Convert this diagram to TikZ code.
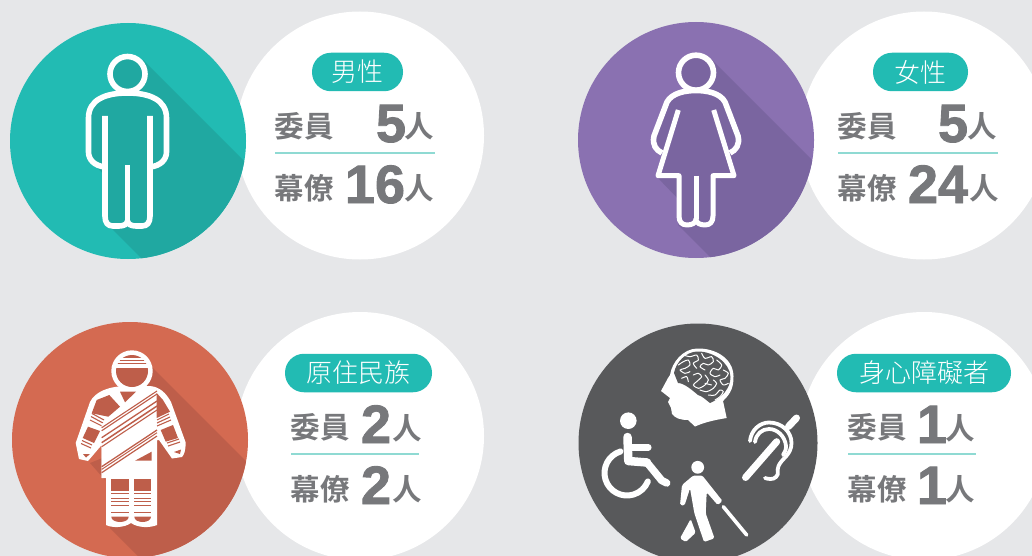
\documentclass[tikz,border=0pt]{standalone}
\usepackage{fontspec}
\newfontfamily\cjkb{Noto Sans CJK TC Bold}
\newfontfamily\cjkl{Noto Sans CJK TC Light}
\newfontfamily\numf{Liberation Sans}[BoldFeatures={FakeBold=1.6}]
\definecolor{bgc}{HTML}{E6E7E9}
\definecolor{tealc}{HTML}{22BBB3}
\definecolor{tealsh}{HTML}{20A8A1}
\definecolor{purc}{HTML}{8A71B1}
\definecolor{pursh}{HTML}{7A65A0}
\definecolor{redc}{HTML}{D46A51}
\definecolor{redsh}{HTML}{BE5E4A}
\definecolor{darkc}{HTML}{58595B}
\definecolor{txtc}{HTML}{77787B}
\definecolor{rulec}{HTML}{8FDAD3}
\tikzset{
  word/.style={inner sep=0,text=txtc,font=\cjkb\fontsize{29.5}{30}\selectfont},
  digit/.style={inner sep=0,text=txtc,font=\numf\bfseries\fontsize{54}{54}\selectfont},
  pillbox/.style={inner sep=0,text=white,font=\cjkl\fontsize{26}{26}\selectfont},
  pillbg/.style={fill=tealc,rounded corners=19pt},
  rulel/.style={draw=rulec,line width=2pt},
  outline/.style={draw=white,line width=5.6pt,line join=round},
  icon/.style={draw=white,line cap=round,line join=round},
}
\begin{document}
\begin{tikzpicture}[x=1pt,y=-1pt]
\useasboundingbox (0,0) rectangle (1032,556);
\fill[bgc] (0,0) rectangle (1032,556);
\fill[white] (360,135.5) circle[radius=124];
\fill[white] (924,135.5) circle[radius=124];
\fill[white] (360,436) circle[radius=124];
\fill[white] (924,436) circle[radius=124];
% ---------- man
\fill[tealc] (128,141) circle[radius=118];
\begin{scope}
\clip (128,141) circle[radius=118];
\fill[tealsh] (143,60) -- (343,260) -- (310,427) -- (110,227) -- (110,160) -- cycle;
\fill[tealsh] (92,162) -- (106,177) -- (110,160) -- cycle;
\end{scope}
\fill[tealsh] (127.5,74) circle[radius=17.5];
\fill[tealsh] (88.5,118) .. controls (88.5,100) and (105,93) .. (127.5,93) .. controls (150,93) and (166.5,100) .. (166.5,118) -- (166.5,152) .. controls (166.5,160) and (160,166) .. (150,167) -- (150,226) -- (105,226) -- (105,167) .. controls (95,166) and (88.5,160) .. (88.5,152) -- cycle;
\draw[outline] (127.5,74) circle[radius=17.5];
\draw[outline] (105,167) .. controls (95,166) and (88.5,160) .. (88.5,152) -- (88.5,118) .. controls (88.5,100) and (105,93) .. (127.5,93) .. controls (150,93) and (166.5,100) .. (166.5,118) -- (166.5,152) .. controls (166.5,160) and (160,166) .. (150,167);
\draw[outline] (105,116) -- (105,216) .. controls (105,223) and (108,226) .. (113,226) -- (119,226) .. controls (124,226) and (127.5,224) .. (127.5,221) .. controls (127.5,224) and (131,226) .. (136,226) -- (142,226) .. controls (147,226) and (150,223) .. (150,216) -- (150,116);
\draw[outline] (127.5,165) -- (127.5,221);
% ---------- woman
\fill[purc] (696,140) circle[radius=118];
\begin{scope}
\clip (696,140) circle[radius=118];
\fill[pursh] (712,60) -- (912,260) -- (878,425) -- (678,225) -- (679,170) -- cycle;
\fill[pursh] (656,176) -- (682,203) -- (682,170) -- cycle;
\end{scope}
\fill[pursh] (696,72.7) circle[radius=17.5];
\fill[pursh] (696,91) .. controls (685,91) and (675,93) .. (670,102) -- (654,138) .. controls (652,145) and (656,150) .. (662,153) -- (658,175.7) -- (679,175.7) -- (679,225) -- (713,225) -- (713,175.7) -- (734,175.7) -- (730,153) .. controls (736,150) and (740,145) .. (738,138) -- (722,102) .. controls (717,93) and (707,91) .. (696,91) -- cycle;
\draw[outline] (696,72.7) circle[radius=17.5];
\draw[outline] (662,153) .. controls (656,150) and (652,145) .. (654,136) -- (667,102) .. controls (672,93) and (685,90.5) .. (696,90.5) .. controls (707,90.5) and (720,93) .. (725,102) -- (738,136) .. controls (740,145) and (736,150) .. (730,153);
\draw[outline,line width=5pt] (678.3,110) -- (658,175.7) -- (679,175.7) -- (679,216) .. controls (679,222) and (682,225) .. (687,225) .. controls (692,225) and (696,223) .. (696,219) .. controls (696,223) and (700,225) .. (705,225) .. controls (710,225) and (713,222) .. (713,216) -- (713,175.7) -- (734,175.7) -- (713.7,110);
\draw[outline,line width=5pt] (696,175.7) -- (696,219);
% ---------- indigenous figure
\fill[redc] (130,440) circle[radius=118];
\begin{scope}
\clip (130,440) circle[radius=118];
\fill[redsh] (148,363) -- (348,563) -- (310,728) -- (110,528) -- (110,440) -- cycle;
\fill[redsh] (90,463) -- (105,480) -- (110,455) -- cycle;
\end{scope}
\fill[white] (132,371) circle[radius=20.7];
% body silhouette
\fill[white] (90,402) .. controls (95,392) and (108,386) .. (128,386) -- (150,386) .. controls (160,387) and (166,393) .. (171,402) -- (185.5,442) .. controls (186,450) and (184,455) .. (182,457) -- (172,458.5) -- (159,440) -- (157,440) -- (157,525) .. controls (150,528) and (138,528) .. (131,523) .. controls (124,528) and (112,528) .. (106,525) -- (106,478) -- (101.7,478) -- (101.7,445) -- (88,461) -- (79,459) -- (75.7,443) -- cycle;
% head details
\begin{scope}
\clip (132,371) circle[radius=16];
\fill[redsh] (112,367.7) rectangle (152,392);
\fill[redsh] (112,354) rectangle (152,358.4);
\fill[redsh] (112,360) rectangle (152,361);
\fill[redsh] (112,362.6) rectangle (152,363.6);
\end{scope}
% arm and torso holes
\fill[redsh] (96.7,400) -- (109.3,395) -- (120,406.7) -- (108.3,416.7) -- (91.7,413.3) -- cycle;
\fill[redsh] (120,391.7) -- (136,391.7) -- (125,402.3) -- cycle;
\draw[white,line width=1.6pt] (114,393) -- (124,403);
\fill[redsh] (88,426.7) -- (100,431) -- (94,443) -- (82.7,438) -- cycle;
\draw[redsh,line width=1.1pt] (92,413.5) -- (104,420) (91,416.5) -- (103,423) (90,420) -- (102,426);
\draw[redsh,line width=1.1pt] (82,440.5) -- (92,445) (81,443.5) -- (91,448);
\fill[redsh] (83,454) -- (90,454) -- (86,457.5) -- cycle;
\fill[redsh] (156.7,393) -- (163,400) -- (170,411.7) -- (156.7,418) -- cycle;
\draw[redsh,line width=1.1pt] (157,420) -- (169,414) (157,423) -- (170,417) (157,426) -- (171,420);
\fill[redsh] (160.7,430) -- (173,425) -- (178,438) -- (165.7,441.7) -- cycle;
\draw[redsh,line width=1.1pt] (167,443) -- (179,439) (168,446) -- (180,442);
\fill[redsh] (174,452) -- (181,449.5) -- (180,454) -- cycle;
% sash
\fill[white] (101.7,424) -- (155,387) -- (157,440) -- (101.7,478) -- cycle;
\foreach \ry/\w in {391/1.1,394/1.1,401/1.3,406/1.5,410/1.1,430/1.3,432.7/1.0,436/1.2}{
  \draw[redsh,line width=\w pt] (101.7,\ry+36.7) -- (157,\ry);
}
\fill[redsh] (135,460.7) -- (151.7,451.7) -- (151.7,460.7) -- cycle;
% legs
\foreach \xa/\xb in {111.3/128.7,134.3/151}{
  \fill[redsh] (\xa,479.3) rectangle (\xb,490.7);
  \foreach \yy in {493.3,498.3,501,505,511.7}{\fill[redsh] (\xa,\yy) rectangle (\xb,\yy+0.9);}
  \fill[redsh] (\xa,516.7) -- (\xb,516.7) .. controls (\xb,520) and (\xb-4,522) .. (\xa/2+\xb/2,522) .. controls (\xa+4,522) and (\xa,520) .. (\xa,516.7) -- cycle;
}
% ---------- disability
\fill[darkc] (698,443) circle[radius=119.5];
% head and brain
\fill[white] (670,375) .. controls (672,362) and (683,349) .. (697,348.5) .. controls (715,348) and (733,358) .. (733.5,376) .. controls (734,390) and (728,396) .. (723,401) -- (726.7,418) .. controls (715,420) and (705,422) .. (695,426.5) -- (688,420) .. controls (680,420) and (675,418) .. (672,414) -- (671,408) -- (668,402) -- (670,398) -- (661,391) -- (668,378) -- cycle;
\fill[darkc] (674,373) .. controls (676,362) and (686,352) .. (697,351.5) .. controls (712,351) and (730,362) .. (730.5,377) .. controls (730.5,388) and (722,398) .. (710,403) .. controls (706,400) and (702,396) .. (698,395) .. controls (692,390) and (684,383) .. (678,383) -- cycle;
\begin{scope}[shift={(655,340)},x=0.3333pt,y=-0.3333pt]
\draw[white,line width=1pt,line cap=round,line join=round]
 plot[smooth] coordinates {(70,75) (85,65) (100,60) (105,75) (90,85) (75,90) (90,100) (105,95)}
 plot[smooth] coordinates {(85,45) (105,50) (125,45) (130,60) (115,70) (125,85)}
 plot[smooth] coordinates {(140,40) (150,55) (170,50) (175,65) (160,75) (145,70) (135,80) (150,90)}
 plot[smooth] coordinates {(185,60) (200,75) (190,90) (175,85) (165,100) (180,110) (195,105)}
 plot[smooth] coordinates {(205,90) (220,100) (210,115) (195,120) (205,135) (220,130)}
 plot[smooth] coordinates {(115,105) (130,100) (140,110) (125,125) (115,135) (130,145) (150,135) (160,120) (150,105)}
 plot[smooth] coordinates {(80,115) (95,110) (100,125)}
 plot[smooth] coordinates {(135,150) (155,155) (175,145) (185,130) (175,120)}
 plot[smooth] coordinates {(160,165) (180,165) (195,150) (205,155) (195,170) (180,180)}
 plot[smooth] coordinates {(150,130) (170,135)};
\end{scope}
% wheelchair
\fill[white] (628.3,420.7) circle[radius=8.3];
\draw[icon,line width=8.5pt] (627.5,437) -- (628.3,461) -- (647,462.5);
\draw[icon,line width=7.5pt] (647,462.5) -- (661.7,480.5) -- (666.7,483);
\draw[icon,line width=6.5pt] (630,447.3) -- (648.3,447.3);
\draw[icon,line width=6pt] (627,473) ++(253:22.5) arc[start angle=253,end angle=22,radius=22.5];
% blind person
\fill[white] (697.7,467.3) circle[radius=6.4];
\fill[white,rounded corners=1.5pt] (693.3,475.5) -- (702.3,475.5) -- (722.5,501) -- (717.7,505) -- (706.7,492.3) -- (705.7,513.3) -- (714.5,538.3) -- (704,542) -- (694.3,513) -- (690,488.3) -- (684.5,505.5) -- (680,505) -- (682,485) -- cycle;
\fill[white,rounded corners=1.5pt] (690.7,519) -- (695.7,532.7) -- (685.7,542) -- (680,538.3) -- cycle;
\draw[icon,line width=3.6pt] (723.3,506.7) -- (746.7,535);
% ear
\draw[icon,line width=7pt] (745.5,477.5) -- (776.7,441.7);
\draw[icon,line width=7pt] (788.5,426.5) -- (796.5,418);
\draw[icon,line width=3.8pt] (750,441) .. controls (751,430) and (760,422.5) .. (769,422.5) .. controls (782,422.5) and (791.5,432) .. (791.5,443) .. controls (791.5,455) and (782,458) .. (778.5,466) .. controls (776,472) and (780,473) .. (776,477) .. controls (773,480) and (768,479) .. (765,478);
\draw[icon,line width=3.8pt] (755,442) .. controls (756,434) and (762,429) .. (769,429) .. controls (777,429) and (785,436) .. (786,446) .. controls (786,450) and (785,452) .. (783,455);
% ---------- texts
\node[pillbg,minimum width=91pt,minimum height=38.5pt] (p1) at (357.5,72) {};
\node[pillbox] (t1) at (p1) {男性};
\node[pillbg,minimum width=95pt,minimum height=38.5pt] (p2) at (920.5,72) {};
\node[pillbox] (t2) at (p2) {女性};
\node[pillbg,minimum width=147pt,minimum height=38.5pt] (p3) at (358.5,373) {};
\node[pillbox] (t3) at (p3) {原住民族};
\node[pillbg,minimum width=174pt,minimum height=38.5pt] (p4) at (924,373) {};
\node[pillbox] (t4) at (p4) {身心障礙者};
% panel 1
\node[word] (a1) at (304,126) {委員};
\node[digit,anchor=base] (b1) at (391,142) {5};
\node[word] (c1) at (419.5,126) {人};
\draw[rulel] (275,152.7) -- (435,152.7);
\node[word] (d1) at (304,188) {幕僚};
\node[digit,anchor=base] (e1) at (375,203) {16};
\node[word] (f1) at (419,188) {人};
% panel 2
\node[word] (a2) at (867,126) {委員};
\node[digit,anchor=base] (b2) at (953,142) {5};
\node[word] (c2) at (982.5,126) {人};
\draw[rulel] (838,152.7) -- (998,152.7);
\node[word] (d2) at (867,188) {幕僚};
\node[digit,anchor=base] (e2) at (938,203) {24};
\node[word] (f2) at (984,188) {人};
% panel 3
\node[word] (a3) at (320,427) {委員};
\node[digit,anchor=base] (b3) at (376,443) {2};
\node[word] (c3) at (407,428) {人};
\draw[rulel] (291,453.7) -- (419,453.7);
\node[word] (d3) at (320,489) {幕僚};
\node[digit,anchor=base] (e3) at (376,504) {2};
\node[word] (f3) at (407,489) {人};
% panel 4
\node[word] (a4) at (877,427) {委員};
\node[digit,anchor=base] (b4) at (932,443) {1};
\node[word] (c4) at (960,428) {人};
\draw[rulel] (848,453.7) -- (976,453.7);
\node[word] (d4) at (877,489) {幕僚};
\node[digit,anchor=base] (e4) at (932,504) {1};
\node[word] (f4) at (960,489) {人};
\end{tikzpicture}
\end{document}
